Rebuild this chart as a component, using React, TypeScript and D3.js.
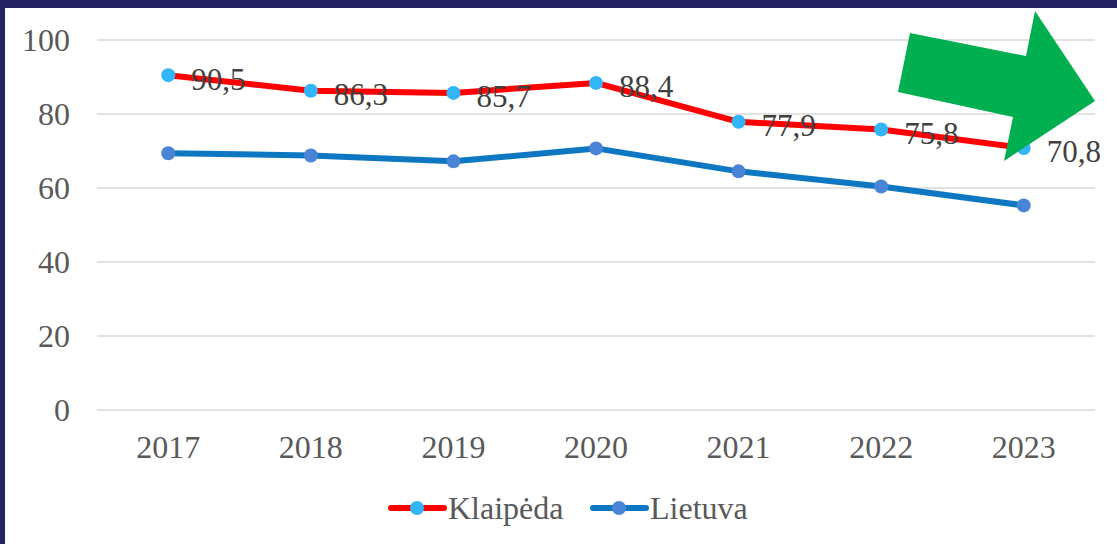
import React from "react";
import * as d3 from "d3";

const years = ["2017", "2018", "2019", "2020", "2021", "2022", "2023"];
const klaipeda = [90.5, 86.3, 85.7, 88.4, 77.9, 75.8, 70.8];
const lietuva = [69.4, 68.8, 67.2, 70.7, 64.5, 60.4, 55.3];
const yTicks = [0, 20, 40, 60, 80, 100];
const seriesNames = ["Klaipėda", "Lietuva"];

const W = 1117;
const H = 544;
const FONT = "Liberation Serif, Times New Roman, serif";

export default function App() {
  const x = d3.scaleBand<string>().domain(years).range([97, 1095]);
  const y = d3.scaleLinear().domain([0, 100]).range([410, 40]);
  const cx = (d: string) => (x(d) as number) + x.bandwidth() / 2;
  const line = d3
    .line<number>()
    .x((_, i) => cx(years[i]))
    .y((v) => y(v));
  const fmt = (v: number) => v.toFixed(1).replace(".", ",");
  const ts = { fontFamily: FONT };

  // arrow polygon in pixel space (decorative shape)
  const arrow: [number, number][] = [
    [910, 33], [1026, 56], [1035, 11], [1095, 101], [1004, 161], [1013, 117], [898, 92],
  ];

  return (
    <svg width={W} height={H} style={{ position: "absolute", left: 0, top: 0, fontFamily: FONT }}>
      <rect x={0} y={0} width={W} height={H} fill="#ffffff" />
      <rect x={0} y={0} width={W} height={8} fill="#262262" />
      <rect x={0} y={0} width={5} height={H} fill="#262262" />
      {yTicks.map((t) => (
        <g key={t}>
          <line x1={97} x2={1095} y1={y(t)} y2={y(t)} stroke="#d9d9d9" strokeWidth={1.5} />
          <text x={70} y={y(t)} dy="0.35em" textAnchor="end" fontSize={32} fill="#595959" style={ts}>
            {t}
          </text>
        </g>
      ))}
      {years.map((yr) => (
        <text key={yr} x={cx(yr)} y={447} dy="0.35em" textAnchor="middle" fontSize={32} fill="#595959" style={ts}>
          {yr}
        </text>
      ))}
      <path d={line(lietuva) || ""} fill="none" stroke="#0e77c2" strokeWidth={6} strokeLinejoin="round" />
      {lietuva.map((v, i) => (
        <circle key={i} cx={cx(years[i])} cy={y(v)} r={7} fill="#4a84d6" />
      ))}
      <path d={line(klaipeda) || ""} fill="none" stroke="#ff0000" strokeWidth={6} strokeLinejoin="round" />
      {klaipeda.map((v, i) => (
        <circle key={i} cx={cx(years[i])} cy={y(v)} r={7} fill="#33b5fb" />
      ))}
      <polygon points={arrow.map((p) => p.join(",")).join(" ")} fill="#00b050" />
      {klaipeda.map((v, i) => (
        <text key={i} x={cx(years[i]) + 23} y={y(v) + 2} dy="0.4em" fontSize={31} fill="#404040" style={ts}>
          {fmt(v)}
        </text>
      ))}
      {/* legend */}
      <g>
        <line x1={391} x2={444} y1={508} y2={508} stroke="#ff0000" strokeWidth={6} strokeLinecap="round" />
        <circle cx={417} cy={508} r={7} fill="#33b5fb" />
        <text x={448} y={508} dy="0.35em" fontSize={32} fill="#595959" style={ts}>{seriesNames[0]}</text>
        <line x1={593} x2={646} y1={508} y2={508} stroke="#0e77c2" strokeWidth={6} strokeLinecap="round" />
        <circle cx={619} cy={508} r={7} fill="#4a84d6" />
        <text x={650} y={508} dy="0.35em" fontSize={32} fill="#595959" style={ts}>{seriesNames[1]}</text>
      </g>
    </svg>
  );
}
